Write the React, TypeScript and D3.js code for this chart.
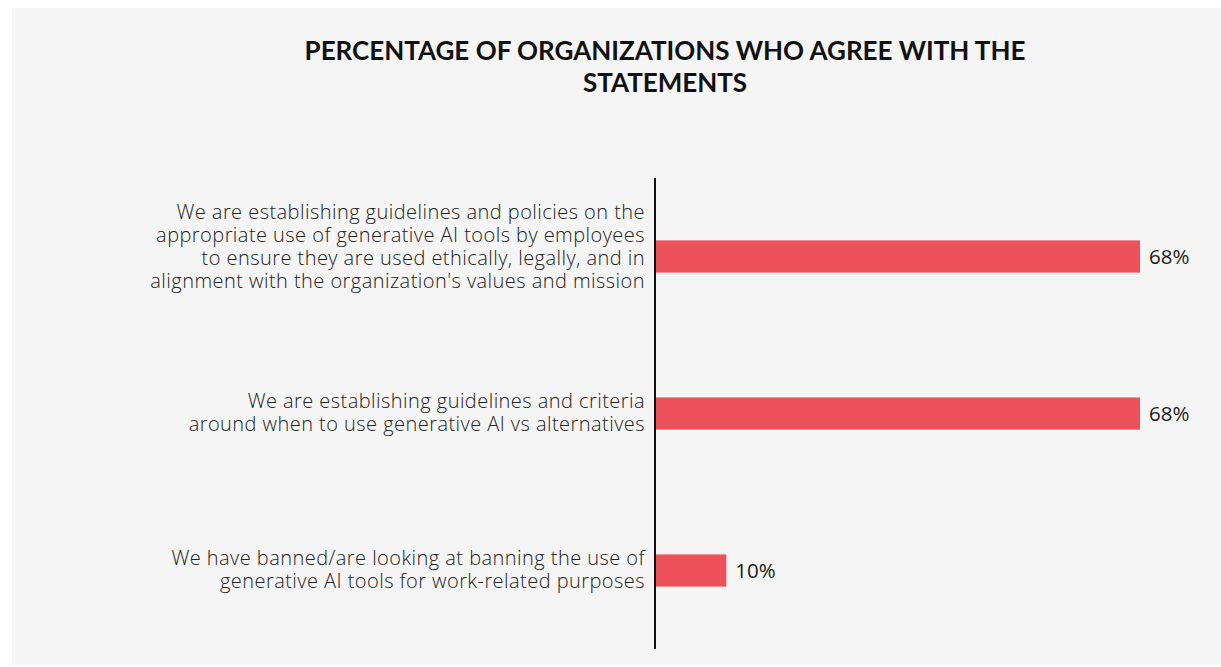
import React, { useEffect, useRef } from 'react';
import * as d3 from 'd3';

// statements (already wrapped the way the source chart shows them)
const statements: string[][] = [
  [
    'We are establishing guidelines and policies on the',
    'appropriate use of generative AI tools by employees',
    'to ensure they are used ethically, legally, and in',
    "alignment with the organization's values and mission",
  ],
  [
    'We are establishing guidelines and criteria',
    'around when to use generative AI vs alternatives',
  ],
  [
    'We have banned/are looking at banning the use of',
    'generative AI tools for work-related purposes',
  ],
];
const agreePct = [68, 68, 10];
const titleLines = ['PERCENTAGE OF ORGANIZATIONS WHO AGREE WITH THE', 'STATEMENTS'];

const W = 1221;
const H = 667;

const App = () => {
  const ref = useRef<SVGSVGElement>(null);

  useEffect(() => {
    const svg = d3.select(ref.current);
    svg.selectAll('*').remove();

    // panel background
    svg.append('rect')
      .attr('x', 12).attr('y', 8)
      .attr('width', W - 12).attr('height', 657)
      .attr('fill', '#f5f5f5');

    const axisX = 655;
    const x = d3.scaleLinear().domain([0, 68]).range([axisX, 1140]);
    const y = d3.scaleBand<number>()
      .domain(statements.map((_, i) => i))
      .range([178, 649])
      .paddingInner(0.795)
      .paddingOuter(0.3975);

    // title
    svg.append('text')
      .attr('x', 665)
      .attr('text-anchor', 'middle')
      .attr('font-family', 'Lato, sans-serif')
      .attr('font-weight', 700)
      .attr('font-size', 26)
      .attr('fill', '#111')
      .selectAll('tspan')
      .data(titleLines)
      .enter()
      .append('tspan')
      .attr('x', 665)
      .attr('y', (_, i) => 60 + i * 32)
      .text(d => d);

    // bars
    svg.selectAll('.bar')
      .data(agreePct)
      .enter()
      .append('rect')
      .attr('class', 'bar')
      .attr('x', x(0))
      .attr('y', (_, i) => y(i)!)
      .attr('width', d => x(d) - x(0))
      .attr('height', y.bandwidth())
      .attr('fill', '#ec5058');

    // value labels
    svg.selectAll('.val')
      .data(agreePct)
      .enter()
      .append('text')
      .attr('class', 'val')
      .attr('x', d => x(d) + 9)
      .attr('y', (_, i) => y(i)! + y.bandwidth() / 2)
      .attr('dy', '0.36em')
      .attr('font-family', '"Open Sans", sans-serif')
      .attr('font-size', 20.5)
      .attr('fill', '#1a1a1a')
      .text(d => `${d}%`);

    // category labels
    const lh = 23;
    statements.forEach((lines, i) => {
      const cy = y(i)! + y.bandwidth() / 2;
      const n = lines.length;
      const shift = 6 - (n - 2) * 4.75;
      svg.append('text')
        .attr('text-anchor', 'end')
        .attr('font-family', '"Open Sans", sans-serif')
        .attr('font-weight', 300)
        .attr('font-size', 20)
        .attr('letter-spacing', 0.45)
        .attr('fill', '#222')
        .selectAll('tspan')
        .data(lines)
        .enter()
        .append('tspan')
        .attr('x', 645)
        .attr('y', (_, j) => cy + (j - (n - 1) / 2) * lh + shift)
        .text(d => d);
    });

    // vertical axis line
    svg.append('line')
      .attr('x1', axisX).attr('x2', axisX)
      .attr('y1', 178).attr('y2', 649)
      .attr('stroke', '#111')
      .attr('stroke-width', 2);
  }, []);

  return (
    <svg
      ref={ref}
      width={W}
      height={H}
      style={{ position: 'absolute', left: 0, top: 0, background: '#fff' }}
    />
  );
};

export default App;
